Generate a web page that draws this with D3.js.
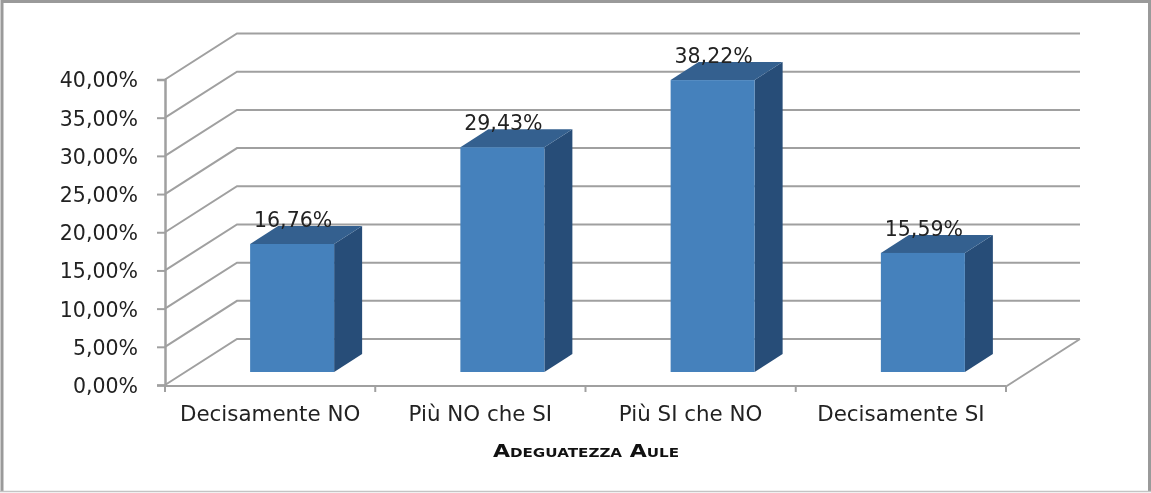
<!DOCTYPE html>
<html><head><meta charset="utf-8">
<script src="https://cdn.jsdelivr.net/npm/d3@7"></script>
<style>html,body{margin:0;padding:0;background:#fff;overflow:hidden}svg{display:block}
text{font-family:"DejaVu Sans",sans-serif;fill:#222}</style></head>
<body><div id="c"></div>
<script>
const categories=["Decisamente NO","Più NO che SI","Più SI che NO","Decisamente SI"];
const values=[16.76,29.43,38.22,15.59];
const valueLabels=["16,76%","29,43%","38,22%","15,59%"];
const yTicks=[0,5,10,15,20,25,30,35,40];
const yTickLabels=["0,00%","5,00%","10,00%","15,00%","20,00%","25,00%","30,00%","35,00%","40,00%"];
const axisTitle="Adeguatezza Aule";

const W=1151,H=493;
const svg=d3.select("#c").append("svg").attr("width",W).attr("height",H);
svg.append("rect").attr("width",W).attr("height",H).attr("fill","#fff");
const border="#9a9a9a";
svg.append("path").attr("d",`M2,${H-1}V1.5H${W-1.5}V${H-1}`).attr("fill","none").attr("stroke",border).attr("stroke-width",3);
svg.append("line").attr("x1",0).attr("x2",W).attr("y1",491.5).attr("y2",491.5).attr("stroke","#c4c4c4").attr("stroke-width",1.5);

const root=svg.append("g").style("filter","blur(0.35px)");
const x=d3.scaleBand().domain(categories).range([165,1006]).paddingInner(0).paddingOuter(0);
const y=d3.scaleLinear().domain([0,40]).range([385,79.5]);
const DX=72,DY=-46, gridC="#a0a0a0";

root.append("g").selectAll("path").data(yTicks).join("path")
 .attr("d",d=>`M165,${y(d)}L${165+DX},${y(d)+DY}H1080`)
 .attr("fill","none").attr("stroke",gridC).attr("stroke-width",2);
root.append("path").attr("d",`M1006,386.5L1080,339`).attr("stroke",gridC).attr("stroke-width",2).attr("fill","none");

const yAxis=d3.axisLeft(y).tickValues(yTicks).tickFormat((d,i)=>yTickLabels[i]).tickSize(8).tickPadding(19);
const gy=root.append("g").attr("transform","translate(165,0)").call(yAxis);
gy.selectAll("line").attr("stroke",gridC).attr("stroke-width",2);
gy.select(".domain").attr("stroke",gridC).attr("stroke-width",2.5);
gy.selectAll("text").attr("font-size",20.5).attr("font-family",'"DejaVu Sans",sans-serif').attr("fill","#222").attr("dy","0.36em");

root.append("line").attr("x1",164).attr("x2",1006).attr("y1",386).attr("y2",386).attr("stroke",gridC).attr("stroke-width",2);
const edges=categories.map(c=>x(c)).concat([1006]);
root.append("g").selectAll("line").data(edges).join("line")
 .attr("x1",d=>d).attr("x2",d=>d).attr("y1",386).attr("y2",392).attr("stroke",gridC).attr("stroke-width",2);

root.append("g").selectAll("text").data(categories).join("text")
 .attr("x",d=>x(d)+x.bandwidth()/2).attr("y",421).attr("text-anchor","middle").attr("font-size",21.4).text(d=>d);

const bx=d=>x(d)+x.bandwidth()/2+22-42;
const bw=84, ddx=28, ddy=-18, lift=-13;
const g=root.append("g").selectAll("g").data(categories).join("g");
g.each(function(c,i){
  const s=d3.select(this), l=bx(c), r=l+bw, t=y(values[i])+lift, b=y(0)+lift;
  s.append("path").attr("d",`M${r},${t}l${ddx},${ddy}V${b+ddy}L${r},${b}Z`).attr("fill","#274d78");
  s.append("path").attr("d",`M${l},${t}l${ddx},${ddy}H${r+ddx}L${r},${t}Z`).attr("fill","#34608f");
  s.append("rect").attr("x",l).attr("y",t).attr("width",bw).attr("height",b-t).attr("fill","#4581bc");
  s.append("text").attr("x",l+bw/2+1).attr("y",t-17).attr("text-anchor","middle").attr("font-size",20.5).text(valueLabels[i]);
});

root.append("text").attr("transform","translate(586,457) scale(1.19,1)").attr("text-anchor","middle")
 .attr("font-size",18.5).attr("font-weight",700).style("font-variant","small-caps").style("fill","#111").text(axisTitle);
</script></body></html>
